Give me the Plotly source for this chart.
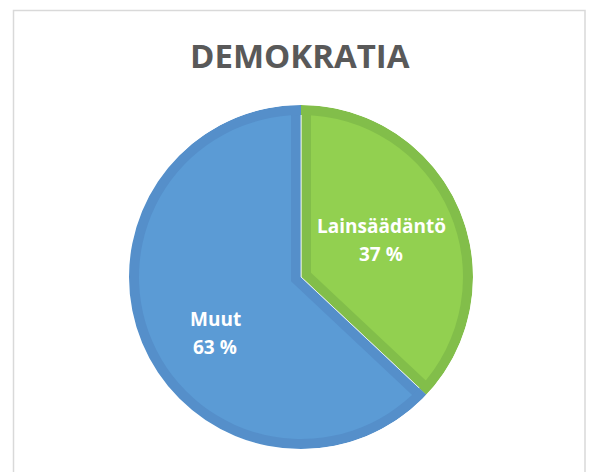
import math
import plotly.graph_objects as go

# ---- data ----
labels = ["Lainsäädäntö", "Muut"]
values = [37, 63]
title_text = "DEMOKRATIA"

# ---- style ----
W, H = 591, 472
fill_colors = ["#92d050", "#5b9bd5"]
band_colors = ["#82be4a", "#558fca"]
CX, CY, R, D = 301.0, 277.0, 172.0, 10.0
FONT = "Open Sans"


def dom(cx, cy, r):
    return dict(x=[(cx - r) / W, (cx + r) / W], y=[1 - (cy + r) / H, 1 - (cy - r) / H])


common = dict(labels=labels, values=values, sort=False, direction="clockwise", rotation=0,
              textinfo="none", hoverinfo="skip", showlegend=False)

fig = go.Figure()
# dark base pie (becomes the inner border bands)
fig.add_trace(go.Pie(**common, domain=dom(CX, CY, R),
                     marker=dict(colors=band_colors, line=dict(color="rgba(255,255,255,0.7)", width=1))))

# light inner part of each slice, inset from the slice edges
total = sum(values)
start = 0.0
for i, v in enumerate(values):
    frac = v / total
    half = math.pi * frac
    bis = 2 * math.pi * (start + frac / 2)
    s = D / math.sin(half)
    ax = CX + s * math.sin(bis)
    ay = CY - s * math.cos(bis)
    rr = R - D - s * math.cos(half) + 2
    cols = ["rgba(0,0,0,0)"] * len(values)
    cols[i] = fill_colors[i]
    fig.add_trace(go.Pie(**common, domain=dom(ax, ay, rr),
                         marker=dict(colors=cols, line=dict(width=0))))
    start += frac

# outer border band ring
fig.add_trace(go.Pie(**common, domain=dom(CX, CY, R), hole=(R - D) / R,
                     marker=dict(colors=band_colors, line=dict(width=0))))
# white mask outside the pie
MR = R + 14
fig.add_trace(go.Pie(labels=["mask"], values=[1], sort=False, textinfo="none", hoverinfo="skip",
                     showlegend=False, domain=dom(CX, CY, MR), hole=R / MR,
                     marker=dict(colors=["white"], line=dict(width=0))))

annotations = [
    dict(text=title_text, x=300 / W, y=1 - 55 / H, xref="paper", yref="paper",
         xanchor="center", yanchor="middle", showarrow=False,
         font=dict(family=FONT, size=33, color="#595959", weight="bold")),
]
label_pos = [(381, 226, 254), (215, 319, 347)]
for (lx, ly1, ly2), lab, val in zip(label_pos, labels, values):
    annotations.append(dict(text=lab, x=lx / W, y=1 - ly1 / H, xref="paper", yref="paper",
                            xanchor="center", yanchor="middle", showarrow=False,
                            font=dict(family=FONT, size=19, color="white", weight="bold")))
    annotations.append(dict(text=f"{val} %", x=lx / W, y=1 - ly2 / H, xref="paper", yref="paper",
                            xanchor="center", yanchor="middle", showarrow=False,
                            font=dict(family=FONT, size=19, color="white", weight="bold")))

fig.update_layout(
    width=W, height=H,
    margin=dict(l=0, r=0, t=0, b=0),
    paper_bgcolor="white", plot_bgcolor="white",
    annotations=annotations,
    shapes=[dict(type="rect", xref="paper", yref="paper",
                 x0=13.5 / W, x1=585 / W, y0=1 - 480 / H, y1=1 - 10.5 / H,
                 line=dict(color="#d9d9d9", width=1.5), fillcolor="rgba(0,0,0,0)", layer="below")],
)

fig.write_html("out.html", config={"displayModeBar": False},
               post_script="document.body.style.margin='0px';")
